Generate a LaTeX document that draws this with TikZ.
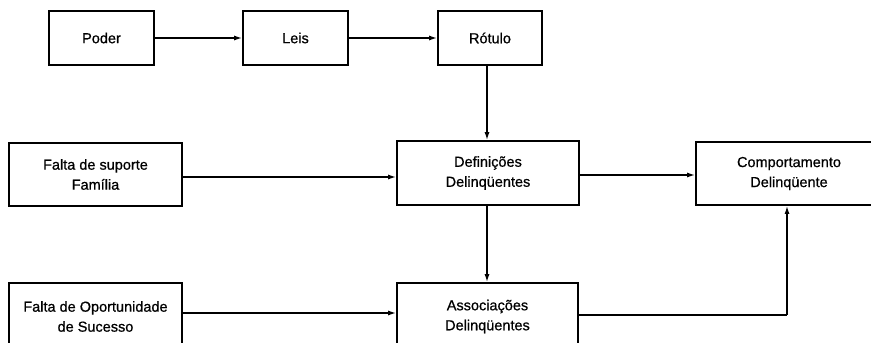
\documentclass[tikz,border=0pt]{standalone}
\usepackage{fontspec}
\setmainfont{Liberation Sans}
\newfontfamily\boxfont{Liberation Sans}[FakeBold=0.7]
\usetikzlibrary{arrows.meta}
\begin{document}
\begin{tikzpicture}[x=1pt,y=-1pt,
  box/.style={draw, line width=1.8pt, rectangle, inner sep=0pt, align=center,
    font=\boxfont\fontsize{14.5}{20}\selectfont},
  conn/.style={line width=1.4pt, -{Latex[length=8pt,width=5pt]}},
  link/.style={line width=1.4pt}]
\useasboundingbox (0,0) rectangle (871,343);
\clip (0,0) rectangle (871,343);
\fill[white] (0,0) rectangle (871,343);
% top row
\node[box, minimum width=105pt, minimum height=54pt] (poder) at (101.5,38) {Poder};
\node[box, minimum width=105pt, minimum height=54pt] (leis) at (295.5,38) {Leis};
\node[box, minimum width=104pt, minimum height=54pt] (rotulo) at (490,38) {Rótulo};
% middle row
\node[box, minimum width=173pt, minimum height=63pt] (suporte) at (95.5,174.5) {Falta de suporte\\Família};
\node[box, minimum width=182pt, minimum height=64pt] (defin) at (488,173) {Definições\\Delinqüentes};
\node[box, minimum width=186pt, minimum height=63pt] (comport) at (789,173.5) {Comportamento\\Delinqüente};
% bottom row
\node[box, minimum width=173pt, minimum height=67pt] (oport) at (95.5,316.5) {Falta de Oportunidade\\de Sucesso};
\node[box, minimum width=181pt, minimum height=67pt] (assoc) at (487.5,316.5) {Associações\\Delinqüentes};
\coordinate (corner) at (787,315);
% connectors
\draw[conn] (poder.east |- 0,38) -- (leis.west |- 0,38);
\draw[conn] (leis.east |- 0,38) -- (rotulo.west |- 0,38);
\draw[conn] (rotulo.south -| 487,0) -- (defin.north -| 487,0);
\draw[conn] (suporte.east |- 0,177) -- (defin.west |- 0,177);
\draw[conn] (defin.east |- 0,175) -- (comport.west |- 0,175);
\draw[conn] (defin.south -| 487,0) -- (assoc.north -| 487,0);
\draw[conn] (oport.east |- 0,313) -- (assoc.west |- 0,313);
\draw[link] (assoc.east |- corner) -- (corner);
\draw[conn] (corner) -- (corner |- comport.south);
\end{tikzpicture}
\end{document}
